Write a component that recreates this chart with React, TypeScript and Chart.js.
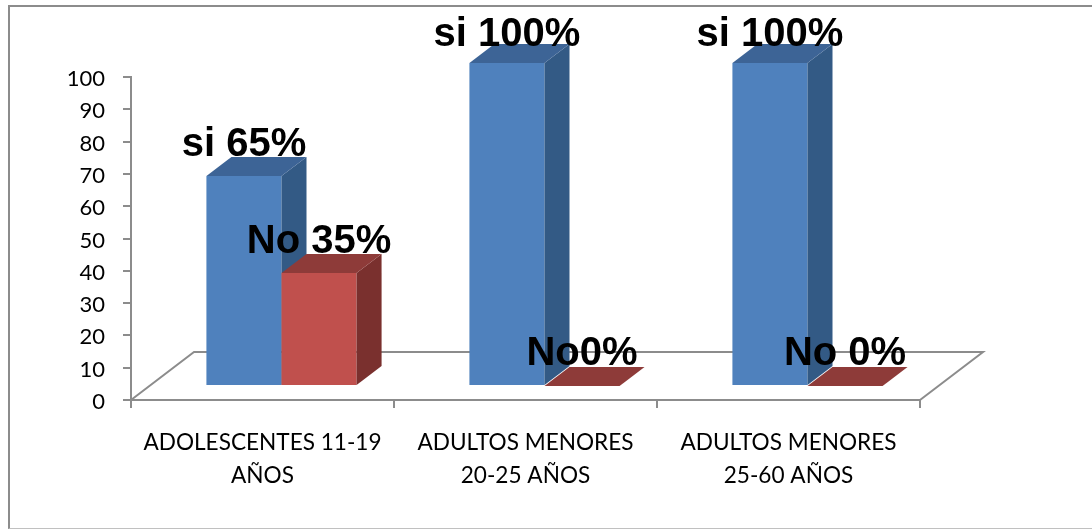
import React, { useEffect, useRef } from "react";
import { Chart, registerables } from "chart.js";

Chart.register(...registerables);

const categories = [
  ["ADOLESCENTES 11-19", "AÑOS"],
  ["ADULTOS MENORES", "20-25 AÑOS"],
  ["ADULTOS MENORES", "25-60 AÑOS"],
];
const siValues = [65, 100, 100];
const noValues = [35, 0, 0];
const siLabels = ["si 65%", "si 100%", "si 100%"];
const noLabels = ["No 35%", "No0%", "No 0%"];
const siLift = [20, 17, 17];
const noLift = [20, 21, 21];

const SHIFT_X = 19;
const SHIFT_Y = -14;
const DEPTH_X = 25;
const DEPTH_Y = -19;
const AXIS = "#8c8c8c";

const faces: Record<number, { top: string; side: string }> = {
  0: { top: "#3d6496", side: "#335a85" },
  1: { top: "#8e3b39", side: "#7a302e" },
};
const dataLabels = [siLabels, noLabels];
const lifts = [siLift, noLift];

const poly = (ctx: CanvasRenderingContext2D, pts: number[][], fill: string) => {
  ctx.beginPath();
  pts.forEach(([x, y], i) => (i ? ctx.lineTo(x, y) : ctx.moveTo(x, y)));
  ctx.closePath();
  ctx.fillStyle = fill;
  ctx.fill();
};

const bars3d = {
  id: "bars3d",
  // The y labels sit about 2px under their tick marks in the reference.
  afterLayout(chart: any) {
    const y = chart.scales.y;
    if (y.__nudged) return;
    y.__nudged = true;
    const orig = y.drawLabels;
    y.drawLabels = function (area: any) {
      chart.ctx.save();
      chart.ctx.translate(0, 2);
      orig.call(this, area);
      chart.ctx.restore();
    };
  },
  beforeDatasetsDraw(chart: any) {
    const { ctx, scales } = chart;
    const x0 = scales.x.left;
    const x1 = scales.x.right;
    const yb = scales.y.getPixelForValue(0);
    const bx = 63;
    const by = -48;
    ctx.save();
    ctx.strokeStyle = AXIS;
    ctx.lineWidth = 2;
    ctx.beginPath();
    ctx.moveTo(x0, yb);
    ctx.lineTo(x0 + bx, yb + by);
    ctx.lineTo(x1 + bx, yb + by);
    ctx.lineTo(x1, yb);
    ctx.stroke();
    ctx.restore();
  },
  // The default draw order puts the first dataset on top; the reference has
  // the red bars in front, so the datasets are painted here, first to last.
  beforeDatasetDraw() {
    return false;
  },
  afterDatasetsDraw(chart: any) {
    const { ctx } = chart;
    ctx.save();
    ctx.translate(SHIFT_X, SHIFT_Y);
    [0, 1].forEach((d) => {
      const meta = chart.getDatasetMeta(d);
      const f = faces[d];
      meta.data.forEach((el: any) => {
        const p = el.getProps(["x", "y", "base", "width"], true);
        const l = p.x - p.width / 2;
        const r = p.x + p.width / 2;
        el.draw(ctx);
        if (p.base - p.y > 0.5) {
          poly(ctx, [[r, p.y], [r + DEPTH_X, p.y + DEPTH_Y], [r + DEPTH_X, p.base + DEPTH_Y], [r, p.base]], f.side);
        }
        poly(ctx, [[l, p.y], [l + DEPTH_X, p.y + DEPTH_Y], [r + DEPTH_X, p.y + DEPTH_Y], [r, p.y]], f.top);
      });
    });
    ctx.restore();

    ctx.save();
    ctx.font = "bold 40px 'Liberation Sans'";
    ctx.fillStyle = "#000";
    ctx.textAlign = "center";
    ctx.textBaseline = "alphabetic";
    [0, 1].forEach((d) => {
      chart.getDatasetMeta(d).data.forEach((el: any, i: number) => {
        const p = el.getProps(["x", "y"], true);
        ctx.fillText(dataLabels[d][i], p.x + SHIFT_X, p.y + SHIFT_Y - lifts[d][i]);
      });
    });
    ctx.restore();
  },
};

export default function App() {
  const ref = useRef<HTMLCanvasElement>(null);
  useEffect(() => {
    const chart = new Chart(ref.current!, {
      type: "bar",
      data: {
        labels: categories,
        datasets: [
          { label: "si", data: siValues, backgroundColor: "#4f81bd" } as any,
          { label: "No", data: noValues, backgroundColor: "#c0504d" } as any,
        ],
      },
      options: {
        responsive: false,
        animation: false,
        layout: { padding: { top: 77, right: 172, bottom: 0, left: 0 } },
        plugins: { legend: { display: false }, title: { display: false }, tooltip: { enabled: false } },
        datasets: { bar: { categoryPercentage: 0.571, barPercentage: 1 } },
        scales: {
          x: {
            afterFit: (s: any) => { s.height = 129; },
            border: { color: AXIS, width: 2 },
            grid: { drawOnChartArea: false, drawTicks: true, tickLength: 8, color: AXIS, lineWidth: 2 },
            ticks: {
              color: "#000",
              font: { family: "Lato", size: 22.6, lineHeight: 1.46 },
              padding: 18,
              maxRotation: 0,
              autoSkip: false,
            },
          },
          y: {
            min: 0,
            max: 100,
            afterFit: (s: any) => { s.width = 131; },
            border: { color: AXIS, width: 2 },
            grid: { drawOnChartArea: false, drawTicks: true, tickLength: 8, color: AXIS, lineWidth: 2 },
            ticks: {
              stepSize: 10,
              color: "#000",
              font: { family: "Lato", size: 22 },
              padding: 18,
            },
          },
        },
      },
      plugins: [bars3d],
    } as any);
    return () => chart.destroy();
  }, []);
  return (
    <div style={{ position: "absolute", left: 0, top: 0, width: 1092, height: 529, background: "#fff" }}>
      <div style={{ position: "absolute", left: 8, top: 5, right: 0, bottom: 0, borderTop: "2px solid #8c8c8c", borderLeft: "2px solid #8c8c8c", borderBottom: "1px solid #c0c0c0" }} />
      <canvas ref={ref} width={1092} height={529} style={{ position: "absolute", left: 0, top: 0 }} />
    </div>
  );
}
